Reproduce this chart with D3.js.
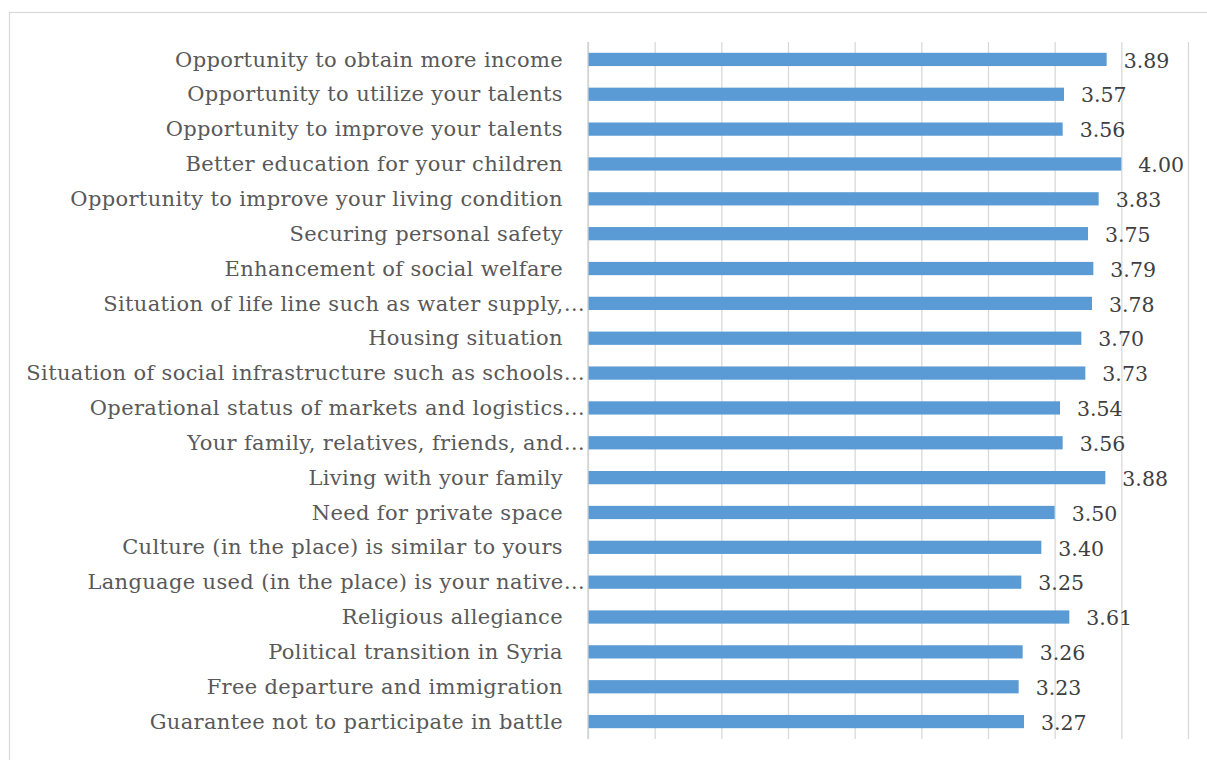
<!DOCTYPE html>
<html>
<head>
<meta charset="utf-8">
<script src="https://cdn.jsdelivr.net/npm/d3@7/dist/d3.min.js"></script>
<style>
  html, body { margin: 0; padding: 0; background: #fff; }
  svg { display: block; }
</style>
</head>
<body>
<svg id="chart" width="1207" height="760"></svg>
<script>
// Survey factors (top to bottom) and their mean scores
const categories = [
  "Opportunity to obtain more income",
  "Opportunity to utilize your talents",
  "Opportunity to improve your talents",
  "Better education for your children",
  "Opportunity to improve your living condition",
  "Securing personal safety",
  "Enhancement of social welfare",
  "Situation of life line such as water supply,…",
  "Housing situation",
  "Situation of social infrastructure such as schools…",
  "Operational status of markets and logistics…",
  "Your family, relatives, friends, and…",
  "Living with your family",
  "Need for private space",
  "Culture (in the place) is similar to yours",
  "Language used (in the place) is your native…",
  "Religious allegiance",
  "Political transition in Syria",
  "Free departure and immigration",
  "Guarantee not to participate in battle"
];
const values = [3.89, 3.57, 3.56, 4.00, 3.83, 3.75, 3.79, 3.78, 3.70, 3.73,
                3.54, 3.56, 3.88, 3.50, 3.40, 3.25, 3.61, 3.26, 3.23, 3.27];
const gridTicks = [0, 0.5, 1, 1.5, 2, 2.5, 3, 3.5, 4, 4.5];

const svg = d3.select("#chart");
const font = "'DejaVu Serif', serif";

// outer frame
svg.append("rect")
  .attr("x", 9.5).attr("y", 12.5)
  .attr("width", 1230).attr("height", 780)
  .attr("fill", "none").attr("stroke", "#d9d9d9").attr("stroke-width", 1.2);

const plot = { left: 588, right: 1188, top: 42, bottom: 739 };

const x = d3.scaleLinear().domain([0, 4.5]).range([plot.left, plot.right]);
const y = d3.scaleBand().domain(categories).range([plot.top, plot.bottom]).paddingInner(0.62).paddingOuter(0.31);

// vertical gridlines
svg.append("g")
  .attr("transform", `translate(0,${plot.bottom})`)
  .call(d3.axisBottom(x).tickValues(gridTicks).tickSize(-(plot.bottom - plot.top)).tickFormat(""))
  .call(g => g.select(".domain").remove())
  .call(g => g.selectAll(".tick line").attr("stroke", "#d9d9d9").attr("stroke-width", 1.3));

// category axis
svg.append("g")
  .attr("transform", `translate(${plot.left},0)`)
  .call(d3.axisLeft(y).tickSize(0).tickPadding(0))
  .call(g => g.select(".domain").remove())
  .call(g => g.selectAll(".tick text")
    .attr("x", d => d.endsWith("…") ? -3 : -25)
    .attr("dy", "0.34em")
    .attr("fill", "#595959")
    .style("font-family", font)
    .style("font-size", "21px")
    .style("letter-spacing", "0.35px"));

// bars
svg.append("g").selectAll("rect")
  .data(categories)
  .join("rect")
  .attr("x", x(0))
  .attr("y", d => y(d))
  .attr("width", (d, i) => x(values[i]) - x(0))
  .attr("height", y.bandwidth())
  .attr("fill", "#5b9bd5");

// axis line at zero
svg.append("line")
  .attr("x1", x(0)).attr("x2", x(0))
  .attr("y1", plot.top).attr("y2", plot.bottom)
  .attr("stroke", "#d0d0d0").attr("stroke-width", 1.3);

// value labels
svg.append("g").selectAll("text")
  .data(categories)
  .join("text")
  .attr("x", (d, i) => x(values[i]) + 17)
  .attr("y", d => y(d) + y.bandwidth() / 2)
  .attr("dy", "0.4em")
  .attr("fill", "#404040")
  .style("font-family", font)
  .style("font-size", "20.5px")
  .text((d, i) => values[i].toFixed(2));
</script>
</body>
</html>
